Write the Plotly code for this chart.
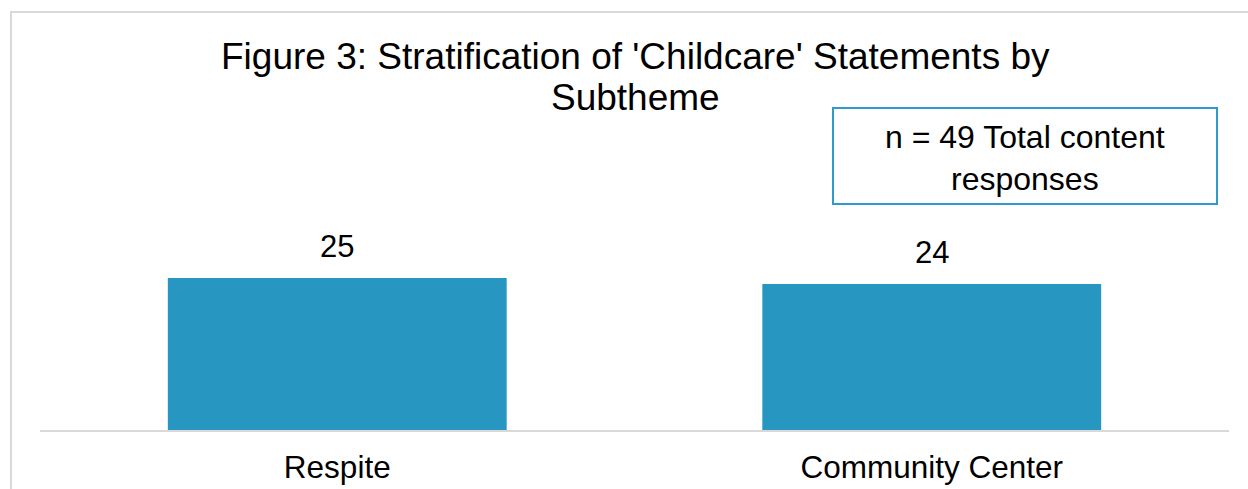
import plotly.graph_objects as go

# Subtheme counts for 'Childcare' statements
subthemes = ["Respite", "Community Center"]
counts = [25, 24]
total_responses = 49

title_lines = ["Figure 3: Stratification of 'Childcare' Statements by", "Subtheme"]
note_text = f"n = {total_responses} Total content<br>responses"

BAR_COLOR = "#2797c1"
BOX_COLOR = "#2e9bc8"
FRAME_COLOR = "#d9d9d9"
FONT = "Liberation Sans, Arial, sans-serif"

W, H = 1248, 489
M_L, M_R, M_T, M_B = 40, 19, 20, 59
PLOT_W = W - M_L - M_R
PLOT_H = H - M_T - M_B


def px_x(px):
    return (px - M_L) / PLOT_W


def px_y(py):
    return (H - M_B - py) / PLOT_H


fig = go.Figure(
    go.Bar(
        x=subthemes,
        y=counts,
        marker=dict(color=BAR_COLOR, line=dict(width=0)),
        width=0.57,
        hoverinfo="x+y",
    )
)

annotations = [
    dict(
        x=cat, y=val, xref="x", yref="y",
        text=str(val), showarrow=False,
        yanchor="bottom", yshift=12,
        font=dict(family=FONT, size=31, color="#000000"),
    )
    for cat, val in zip(subthemes, counts)
]

# two-line chart title
for line, ypx in zip(title_lines, [57, 98]):
    annotations.append(dict(
        x=px_x(635), y=px_y(ypx), xref="paper", yref="paper",
        text=line, showarrow=False, xanchor="center", yanchor="middle",
        font=dict(family=FONT, size=37, color="#000000"),
    ))

annotations.append(dict(
    x=px_x(1025), y=px_y(158), xref="paper", yref="paper",
    text=note_text, showarrow=False, xanchor="center", yanchor="middle",
    font=dict(family=FONT, size=32, color="#000000"),
))

shapes = [
    # outer chart frame
    dict(type="rect", xref="paper", yref="paper",
         x0=px_x(11), x1=px_x(1300), y0=px_y(560), y1=px_y(12),
         line=dict(color=FRAME_COLOR, width=2), fillcolor="rgba(0,0,0,0)", layer="below"),
    # note box
    dict(type="rect", xref="paper", yref="paper",
         x0=px_x(833), x1=px_x(1217), y0=px_y(204), y1=px_y(108),
         line=dict(color=BOX_COLOR, width=2), fillcolor="rgba(0,0,0,0)"),
]

fig.update_layout(
    width=W, height=H,
    margin=dict(l=M_L, r=M_R, t=M_T, b=M_B, autoexpand=False),
    paper_bgcolor="white", plot_bgcolor="white",
    showlegend=False,
    annotations=annotations,
    shapes=shapes,
    font=dict(family=FONT, color="#000000"),
    xaxis=dict(
        showline=True, linecolor=FRAME_COLOR, linewidth=2,
        ticks="", showgrid=False, zeroline=False, automargin=False,
        tickfont=dict(family=FONT, size=31.5, color="#000000"),
        ticklabelstandoff=8,
    ),
    yaxis=dict(
        range=[0, PLOT_H / 6.08], visible=False, showgrid=False, zeroline=False,
        automargin=False,
    ),
    bargap=0.43,
)

fig.write_html("out.html")
